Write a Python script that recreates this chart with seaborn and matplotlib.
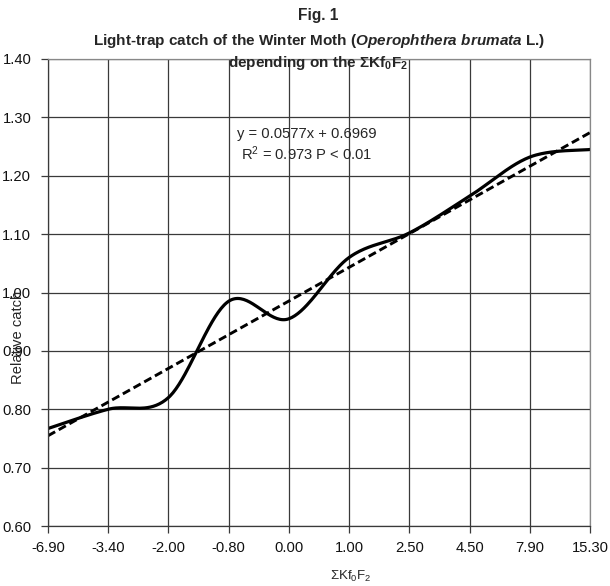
import matplotlib
matplotlib.use('Agg')
import matplotlib.pyplot as plt
import numpy as np
import pandas as pd
import seaborn as sns

# Categories on the x axis (sum Kf0F2) and relative catch
categorias = ['-6.90', '-3.40', '-2.00', '-0.80', '0.00', '1.00', '2.50', '4.50', '7.90', '15.30']
captura = [0.767, 0.800, 0.820, 0.985, 0.955, 1.060, 1.102, 1.165, 1.232, 1.245]
# Linear trend shown on the chart: y = 0.0577x + 0.6969 (x = 1..10)
inclinacao = 0.0577
intercepto = 0.6969
y_ticks = [0.60, 0.70, 0.80, 0.90, 1.00, 1.10, 1.20, 1.30, 1.40]

sns.set_theme(style='white')
plt.rcParams['font.family'] = ['Liberation Sans', 'DejaVu Sans']
plt.rcParams['mathtext.fontset'] = 'custom'
plt.rcParams['mathtext.rm'] = 'Liberation Sans'
plt.rcParams['mathtext.it'] = 'Liberation Sans:italic:bold'
plt.rcParams['mathtext.bf'] = 'Liberation Sans:bold'


def catmull_rom(xs, ys, n=40):
    # Excel-like smoothed line through the points
    px = np.r_[xs[0], xs, xs[-1]]
    py = np.r_[ys[0], ys, ys[-1]]
    cx, cy = [], []
    t = np.linspace(0, 1, n, endpoint=False)
    for i in range(1, len(px) - 2):
        for p, out in ((px, cx), (py, cy)):
            p0, p1, p2, p3 = p[i - 1], p[i], p[i + 1], p[i + 2]
            out.extend(0.5 * (2 * p1 + (-p0 + p2) * t + (2 * p0 - 5 * p1 + 4 * p2 - p3) * t ** 2
                              + (-p0 + 3 * p1 - 3 * p2 + p3) * t ** 3))
    cx.append(xs[-1])
    cy.append(ys[-1])
    return np.array(cx), np.array(cy)


dados = pd.DataFrame({'idx': np.arange(len(categorias)), 'captura': captura})
dados['tendencia'] = inclinacao * (dados['idx'] + 1) + intercepto
sx, sy = catmull_rom(dados['idx'].values.astype(float), dados['captura'].values)

fig = plt.figure(figsize=(6.10, 5.86), dpi=100)
ax = fig.add_axes([48 / 610, 60 / 586, 542 / 610, 467 / 586])

sns.lineplot(x=sx, y=sy, ax=ax, color='black', linewidth=2.3, sort=False)
sns.lineplot(data=dados, x='idx', y='tendencia', ax=ax, color='black',
             linewidth=2.1, linestyle=(0, (2.8, 1.4)))

ax.set_xlim(0, len(categorias) - 1)
ax.set_ylim(0.6, 1.4)
ax.set_xticks(dados['idx'])
ax.set_xticklabels(categorias)
ax.set_yticks(y_ticks)
ax.set_yticklabels([f'{v:.2f}' for v in y_ticks])
ax.grid(True, color='#3a3a3a', linewidth=0.9)
ax.tick_params(axis='both', labelsize=10.6, direction='out', length=5, width=0.9,
               color='#3a3a3a', bottom=True, left=True, labelcolor='#111111')
ax.tick_params(axis='y', pad=7)
ax.tick_params(axis='x', pad=6)
for lado in ['left', 'bottom']:
    ax.spines[lado].set_color('#3a3a3a')
    ax.spines[lado].set_linewidth(0.9)
for lado in ['top', 'right']:
    ax.spines[lado].set_color('#888888')
    ax.spines[lado].set_linewidth(0.9)
ax.set_xlabel('')
ax.set_ylabel('')

fig.text(318 / 610, 1 - 20 / 586, 'Fig. 1', ha='center', va='baseline', fontsize=11.2, fontweight='bold')
fig.text(319 / 610, 1 - 45 / 586,
         r'Light-trap catch of the Winter Moth ($\mathit{Operophthera\ brumata}$ L.)',
         ha='center', va='baseline', fontsize=11, fontweight='bold')
fig.text(318 / 610, 1 - 67 / 586, r'depending on the ΣKf$_\mathbf{0}$F$_\mathbf{2}$',
         ha='center', va='baseline', fontsize=11, fontweight='bold')

fig.text(307 / 610, 1 - 138 / 586, 'y = 0.0577x + 0.6969',
         ha='center', va='baseline', fontsize=10.6)
fig.text(307 / 610, 1 - 160 / 586, r'R$^2$ = 0.973 P < 0.01',
         ha='center', va='baseline', fontsize=10.6)

fig.text(18 / 610, 1 - 337 / 586, 'Relative catch', rotation=90, ha='center', va='center', fontsize=10.6)
fig.text(351 / 610, 1 - 580 / 586, r'ΣKf$_0$F$_2$', ha='center', va='baseline', fontsize=9.5)

fig.savefig('out.png', dpi=100)
